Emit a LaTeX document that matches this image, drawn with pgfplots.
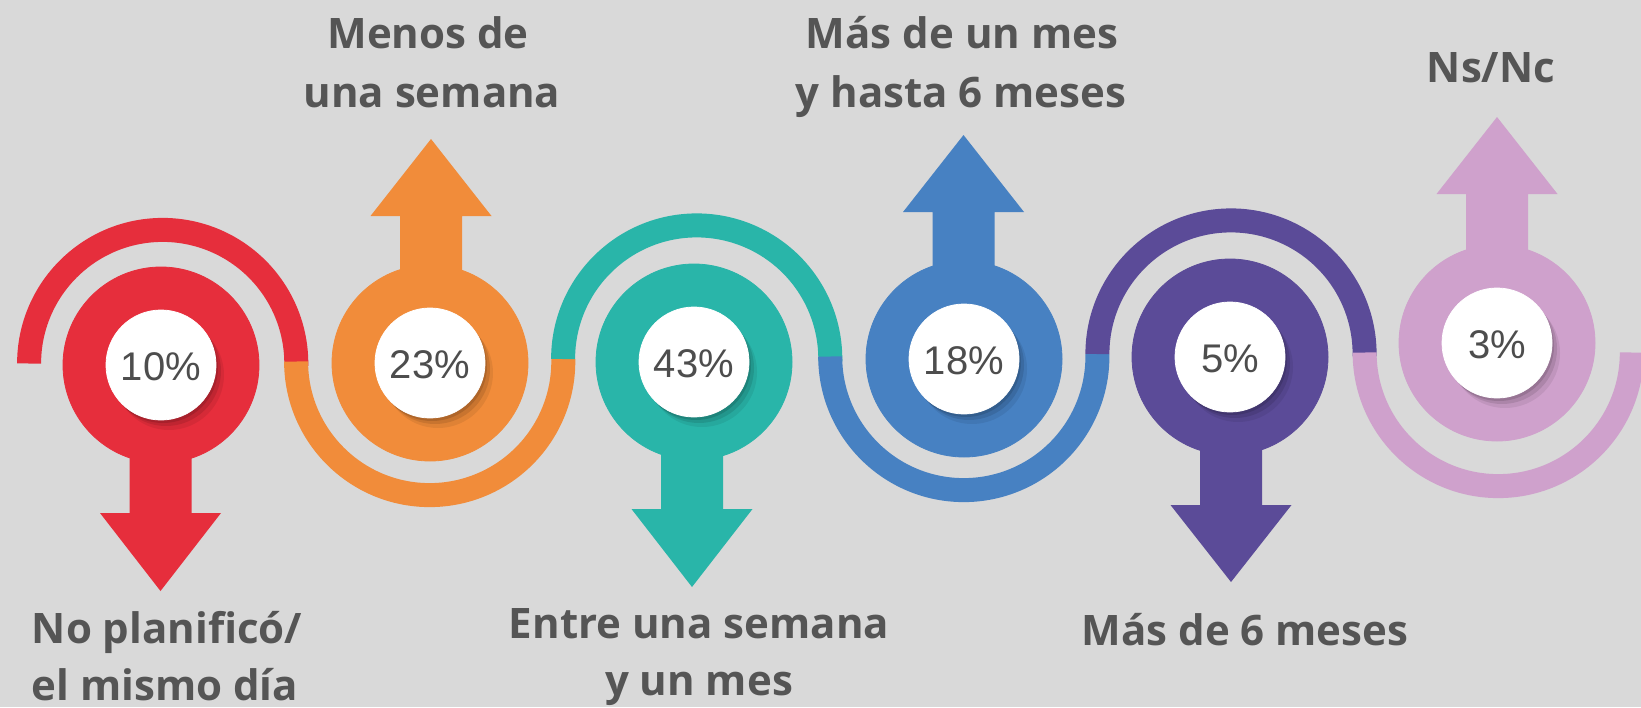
\documentclass[border=0pt]{standalone}
\usepackage{pgfplots}
\pgfplotsset{compat=1.18}
\usepackage{pgfplotstable}
\usepackage{fontspec}
\setmainfont{Open Sans}
\newfontfamily\pctfam{Liberation Sans}
\definecolor{bg}{RGB}{217,217,217}
\definecolor{cRed}{RGB}{230,46,60}
\definecolor{cOrange}{RGB}{241,140,58}
\definecolor{cTeal}{RGB}{41,181,169}
\definecolor{cBlue}{RGB}{71,129,194}
\definecolor{cPurple}{RGB}{91,75,152}
\definecolor{cPink}{RGB}{207,161,204}
\definecolor{txt}{RGB}{85,85,85}
\definecolor{pcttxt}{RGB}{77,77,77}
\tikzset{lab/.style={anchor=base, inner sep=0pt, font=\fontsize{21}{25}\selectfont\bfseries, text=txt}}

\pgfplotstableread{
x y pct cls
161 365 10 a
430 363 23 b
694 362 43 c
964 359 18 d
1230 357 5 e
1497 343 3 f
}\circles

\begin{document}
\begin{tikzpicture}
\begin{axis}[x=0.5pt, y=0.5pt, xmin=0, xmax=1641, ymin=0, ymax=707, y dir=reverse,
  axis line style={draw=none}, ticks=none, axis background/.style={fill=bg}, clip=true]

% S-shaped band of half rings
\draw[cRed, line width=12pt] (axis cs:29.1,363.5) arc[start angle=180, end angle=-1, radius=66.8pt];
\draw[cOrange, line width=12pt] (axis cs:296.1,361.5) arc[start angle=180, end angle=361, radius=66.8pt];
\draw[cTeal, line width=12pt] (axis cs:563.1,359) arc[start angle=180, end angle=-1, radius=66.8pt];
\draw[cBlue, line width=12pt] (axis cs:830.2,356.5) arc[start angle=180, end angle=361, radius=66.8pt];
\draw[cPurple, line width=12pt] (axis cs:1097.4,354) arc[start angle=180, end angle=-1, radius=66.8pt];
\draw[cPink, line width=12pt] (axis cs:1364.6,352.5) arc[start angle=180, end angle=360, radius=66.8pt];

% arrows
\addplot[fill=cRed, draw=none] coordinates {(129.5,365)(191.5,365)(191.5,513)(221,513)(160.5,591)(100,513)(129.5,513)} -- cycle;
\addplot[fill=cOrange, draw=none] coordinates {(400,363)(462,363)(462,216)(491.5,216)(431,139)(370.5,216)(400,216)} -- cycle;
\addplot[fill=cTeal, draw=none] coordinates {(661,362)(723,362)(723,509)(752.5,509)(692,587)(631.5,509)(661,509)} -- cycle;
\addplot[fill=cBlue, draw=none] coordinates {(932.5,359)(994.5,359)(994.5,212)(1024,212)(963.5,135)(903,212)(932.5,212)} -- cycle;
\addplot[fill=cPurple, draw=none] coordinates {(1200,357)(1262,357)(1262,505)(1291.5,505)(1231,582)(1170.5,505)(1200,505)} -- cycle;
\addplot[fill=cPink, draw=none] coordinates {(1466,343)(1528,343)(1528,194)(1557.5,194)(1497,117)(1436.5,194)(1466,194)} -- cycle;

% coloured discs
\addplot[scatter, only marks, mark=*, mark size=49pt, scatter src=explicit symbolic,
  scatter/classes={
    a={mark=*,cRed},
    b={mark=*,cOrange},
    c={mark=*,cTeal},
    d={mark=*,cBlue},
    e={mark=*,cPurple},
    f={mark=*,cPink}}]
  table[x=x, y=y, meta=cls] {\circles};

% soft shadows
\addplot[only marks, mark=*, mark size=27.5pt, color=black, mark options={draw opacity=0, fill=black, fill opacity=0.07}]
  table[x expr=\thisrow{x}+8, y expr=\thisrow{y}+10] {\circles};
\addplot[only marks, mark=*, mark size=27.5pt, color=black, mark options={draw opacity=0, fill=black, fill opacity=0.10}]
  table[x expr=\thisrow{x}+5, y expr=\thisrow{y}+6] {\circles};
\addplot[only marks, mark=*, mark size=27.5pt, color=black, mark options={draw opacity=0, fill=black, fill opacity=0.12}]
  table[x expr=\thisrow{x}+2, y expr=\thisrow{y}+3] {\circles};

% white discs with the shares
\addplot[only marks, mark=*, mark size=27.5pt, color=white, mark options={draw=white, fill=white},
  point meta=explicit symbolic,
  nodes near coords={\pgfplotspointmeta\%},
  nodes near coords style={anchor=center, yshift=-1pt, inner sep=0pt,
    font=\pctfam\fontsize{20}{24}\selectfont, text=pcttxt}]
  table[x=x, y=y, meta=pct] {\circles};

% category labels
\node[lab] at (axis cs:428,48) {Menos de};
\node[lab] at (axis cs:432,107) {una semana};
\node[lab] at (axis cs:962,48) {Más de un mes};
\node[lab] at (axis cs:961,107) {y hasta 6 meses};
\node[lab] at (axis cs:1491,82) {Ns/Nc};
\node[lab] at (axis cs:167,643) {No planificó/};
\node[lab] at (axis cs:165,700) {el mismo día};
\node[lab] at (axis cs:699,638) {Entre una semana};
\node[lab] at (axis cs:699,695) {y un mes};
\node[lab] at (axis cs:1245,645) {Más de 6 meses};
\end{axis}
\end{tikzpicture}
\end{document}
